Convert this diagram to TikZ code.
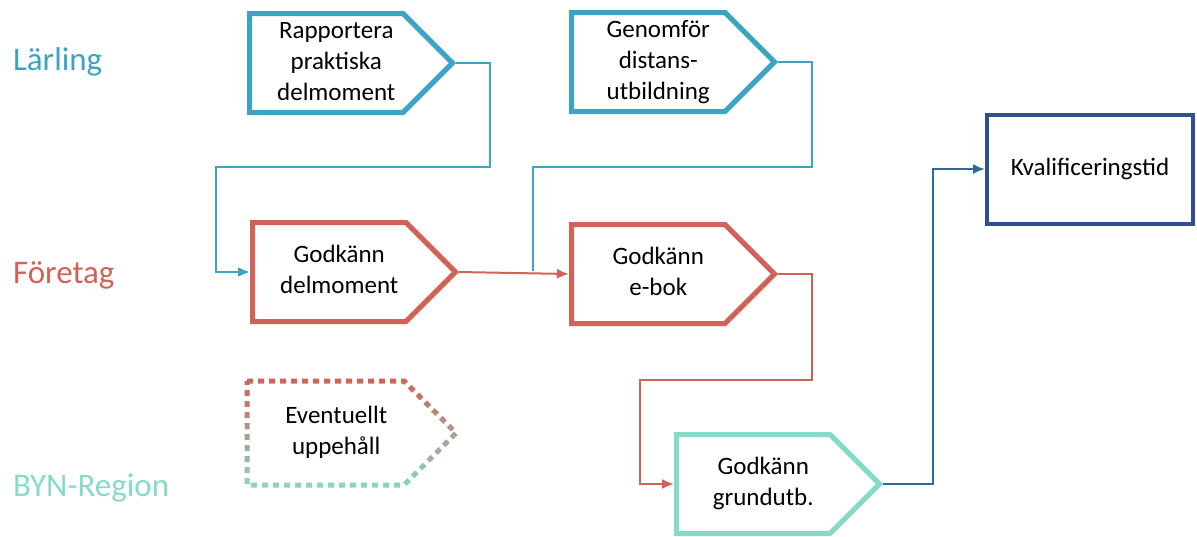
\documentclass[tikz,border=0pt]{standalone}
\usepackage{fontspec}
\setmainfont{Carlito}
\usetikzlibrary{shapes.symbols, arrows.meta}

\definecolor{larblue}{RGB}{58,164,194}
\definecolor{fored}{RGB}{208,98,88}
\definecolor{bynmint}{RGB}{134,218,200}
\definecolor{kvalnavy}{RGB}{46,80,142}
\definecolor{kvalline}{RGB}{46,104,158}

% text of a stage, pushed a little to the right inside the arrow box
\newcommand{\stagetext}[1]{\hspace*{10pt}\begin{tabular}{@{}c@{}}#1\end{tabular}}

\begin{document}
\begin{tikzpicture}[
    x=0.5pt, y=-0.5pt,
    stage/.style={signal, signal to=east, signal pointer angle=90, draw, line width=2.5pt, fill=white, text=black, minimum width=101.5pt, minimum height=49.5pt, inner sep=1pt, font=\fontsize{12.5}{15.5}\selectfont, anchor=west},
    lane/.style={anchor=west, font=\fontsize{16.5}{20}\selectfont},
    line/.style={draw, line width=1pt, -{Latex[length=6pt,width=5pt]}}
]
    \useasboundingbox (0,0) rectangle (1197,536);

    % lanes
    \node [lane, text=larblue] (lar) at (6,62) {Lärling};
    \node [lane, text=fored] (fore) at (6,275) {Företag};
    \node [lane, text=bynmint] (byn) at (6,488) {BYN-Region};

    \node [stage, draw=larblue] (rap) at (247,63) {\stagetext{Rapportera\\praktiska\\delmoment}};
    \node [stage, draw=larblue] (gen) at (569,62) {\stagetext{Genomför\\distans-\\utbildning}};
    \node [stage, draw=fored] (gd) at (250,272) {\stagetext{Godkänn\\delmoment}};
    \node [stage, draw=fored] (ebok) at (569,274) {\stagetext{Godkänn\\e-bok}};
    \node [stage, draw=bynmint] (grund) at (674,484) {\stagetext{Godkänn\\grundutb.}};
    \node [draw=kvalnavy, line width=2pt, minimum width=103pt, minimum height=54.5pt, font=\fontsize{12.5}{15.5}\selectfont] (kval) at (1090,169) {Kvalificeringstid};

    % dotted pause box, red fading to mint
    \node [stage, draw=none, fill=none] (evt) at (247,433) {\stagetext{Eventuellt\\uppehåll}};
    \foreach \i in {0,...,19} {
        \pgfmathsetmacro{\mix}{100-\i*100/19}
        \begin{scope}
            \clip (200,375+\i*6) rectangle (500,381+\i*6);
            \draw [color=fored!\mix!bynmint, line width=2.5pt, dash pattern=on 3pt off 2.5pt]
                (evt.north west) -- (evt.north east) -- (evt.east) -- (evt.south east) -- (evt.south west) -- cycle;
        \end{scope}
    }

    \path [line, larblue] (rap.east) -- ++(34,0) |- (216,167) |- (gd.west);
    \draw [larblue, line width=1pt] (gen.east) -- ++(34,0) |- (533,167) -- (533,271);
    \path [line, fored] (gd.east) -- (ebok.west);
    \path [line, fored] (ebok.east) -- ++(34,0) |- (640,380) |- (grund.west);
    \path [line, kvalline] (grund.east) -- ++(50,0) |- (kval.west);
\end{tikzpicture}
\end{document}
